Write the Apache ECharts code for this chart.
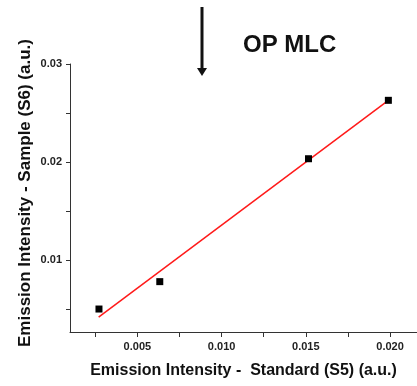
<!DOCTYPE html>
<html>
<head>
<meta charset="utf-8">
<script src="https://cdn.jsdelivr.net/npm/echarts@6/dist/echarts.min.js"></script>
<style>html,body{margin:0;padding:0;background:#fff}#c{width:417px;height:386px}</style>
</head>
<body>
<div id="c"></div>
<script>
// Data
const standardS5 = [0.00272, 0.00633, 0.01516, 0.0199];
const sampleS6 = [0.00504, 0.00783, 0.02035, 0.0263];
const fitX = [0.0027, 0.0199];
const fitY = [0.00422, 0.0263];
const xTickLabels = [0.005, 0.010, 0.015, 0.020];
const xTickMarks = [0.0025, 0.005, 0.0075, 0.010, 0.0125, 0.015, 0.0175, 0.020];
const yTickLabels = [0.01, 0.02, 0.03];
const yTickMarks = [0.005, 0.01, 0.015, 0.02, 0.025, 0.03];

const FONT = '"Liberation Sans", Arial, sans-serif';
const chart = echarts.init(document.getElementById('c'), null, {renderer: 'canvas'});
const pts = standardS5.map((x, i) => [x, sampleS6[i]]);
const fit = fitX.map((x, i) => [x, fitY[i]]);

chart.setOption({
  animation: false,
  backgroundColor: '#fff',
  title: {
    text: 'OP MLC', left: 243, top: 33, padding: 0,
    textStyle: {fontFamily: FONT, fontSize: 24, fontWeight: 'bold', color: '#111'}
  },
  grid: {left: 70, right: 0, top: 64, bottom: 54, containLabel: false},
  xAxis: {
    type: 'value', min: 0.001, max: 0.0216,
    name: 'Emission Intensity -  Standard (S5) (a.u.)',
    nameLocation: 'middle', nameGap: 31,
    nameTextStyle: {fontFamily: FONT, fontSize: 16, fontWeight: 'bold', color: '#111'},
    axisLine: {show: true, lineStyle: {color: '#333', width: 1}},
    axisTick: {show: true, inside: false, length: 5, customValues: xTickMarks, lineStyle: {color: '#333'}},
    axisLabel: {customValues: xTickLabels, fontFamily: FONT, fontSize: 11, fontWeight: 'bold', color: '#222', margin: 9,
      formatter: v => v.toFixed(3)},
    splitLine: {show: false}
  },
  yAxis: {
    type: 'value', min: 0.0027, max: 0.03,
    axisLine: {show: true, lineStyle: {color: '#333', width: 1}},
    axisTick: {show: true, inside: false, length: 4, customValues: yTickMarks, lineStyle: {color: '#333'}},
    axisLabel: {customValues: yTickLabels, fontFamily: FONT, fontSize: 11, fontWeight: 'bold', color: '#222', margin: 8,
      formatter: v => v.toFixed(2)},
    splitLine: {show: false}
  },
  graphic: [
    {type: 'text', x: 25, y: 193, rotation: Math.PI / 2,
      style: {text: 'Emission Intensity - Sample (S6) (a.u.)', fontFamily: FONT, fontSize: 17, fontWeight: 'bold',
        fill: '#111', align: 'center', verticalAlign: 'middle'}},
    {type: 'line', shape: {x1: 202, y1: 7, x2: 202, y2: 69}, style: {stroke: '#111', lineWidth: 3}},
    {type: 'polygon', shape: {points: [[197, 68], [207, 68], [202, 76]]}, style: {fill: '#111'}}
  ],
  series: [
    {type: 'line', data: fit, symbol: 'none', lineStyle: {color: '#ff1a1a', width: 1.5}, z: 2},
    {type: 'scatter', data: pts, symbol: 'rect', symbolSize: 7, itemStyle: {color: '#000', opacity: 1}, z: 3}
  ]
});
</script>
</body>
</html>
